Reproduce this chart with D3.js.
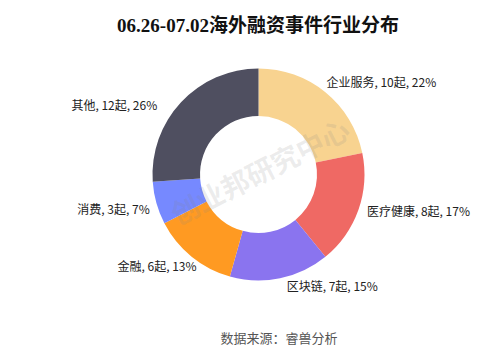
<!DOCTYPE html>
<html>
<head>
<meta charset="utf-8">
<script src="https://cdn.jsdelivr.net/npm/d3@7"></script>
<style>
  body { margin: 0; background: #fff; }
  svg { display: block; }
</style>
</head>
<body>
<div id="chart"></div>
<script>
// data
const categories = ['企业服务', '医疗健康', '区块链', '金融', '消费', '其他'];
const counts = [10, 8, 7, 6, 3, 12];
const percents = ['22%', '17%', '15%', '13%', '7%', '26%'];
const colors = ['#F8D390', '#EF6964', '#8A74EF', '#FF9A22', '#7689FF', '#4F4F60'];

const titleText = '06.26-07.02海外融资事件行业分布';
const sourceText = '数据来源：睿兽分析';
const watermark = '创业邦研究中心';

// layout
const width = 493, height = 349;
const cx = 258.5, cy = 174.5;
const outerR = 106, innerR = 58.5, labelR = 114;
// small label shifts (ECharts-like placement)
const labelShift = [[-4, -3], [1, -1], [5, 1], [10, 4], [1, 5], [-18, 9]];

const svg = d3.select('#chart').append('svg')
    .attr('width', width)
    .attr('height', height);

// title
const title = svg.append('text')
    .attr('x', 258)
    .attr('y', 32)
    .attr('text-anchor', 'middle')
    .attr('font-weight', 'bold')
    .attr('font-size', 19)
    .attr('fill', '#111');
title.append('tspan')
    .attr('font-family', '"Liberation Serif", "Times New Roman", serif')
    .text(titleText.slice(0, 11));
title.append('tspan')
    .attr('font-family', '"Noto Sans CJK SC", sans-serif')
    .text(titleText.slice(11));

const pie = d3.pie().sort(null).startAngle(0).endAngle(2 * Math.PI);
const arcs = pie(counts);

const arc = d3.arc().innerRadius(innerR).outerRadius(outerR);
const labelArc = d3.arc().innerRadius(labelR).outerRadius(labelR);

const g = svg.append('g').attr('transform', `translate(${cx},${cy})`);

g.selectAll('path.slice')
    .data(arcs)
    .enter().append('path')
    .attr('class', 'slice')
    .attr('d', arc)
    .attr('fill', (d, i) => colors[i]);

// labels
g.selectAll('text.lbl')
    .data(arcs)
    .enter().append('text')
    .attr('class', 'lbl')
    .attr('x', (d, i) => labelArc.centroid(d)[0] + labelShift[i][0])
    .attr('y', (d, i) => labelArc.centroid(d)[1] + labelShift[i][1])
    .attr('dy', '0.35em')
    .attr('text-anchor', d => ((d.startAngle + d.endAngle) / 2 < Math.PI ? 'start' : 'end'))
    .attr('font-family', '"Noto Sans CJK SC", sans-serif')
    .attr('font-size', 12)
    .attr('fill', '#222')
    .text((d, i) => `${categories[i]}, ${counts[i]}起, ${percents[i]}`);

// watermark
svg.append('text')
    .attr('transform', `translate(${cx + 2},${cy - 2}) rotate(-27)`)
    .attr('text-anchor', 'middle')
    .attr('dy', '0.35em')
    .attr('font-family', '"Noto Sans CJK SC", sans-serif')
    .attr('font-weight', 'bold')
    .attr('font-size', 28)
    .attr('fill', '#888')
    .attr('fill-opacity', 0.16)
    .text(watermark);

// source
svg.append('text')
    .attr('x', 279)
    .attr('y', 338)
    .attr('dy', '0.35em')
    .attr('text-anchor', 'middle')
    .attr('font-family', '"Noto Sans CJK SC", sans-serif')
    .attr('font-size', 13)
    .attr('fill', '#555')
    .text(sourceText);
</script>
</body>
</html>
